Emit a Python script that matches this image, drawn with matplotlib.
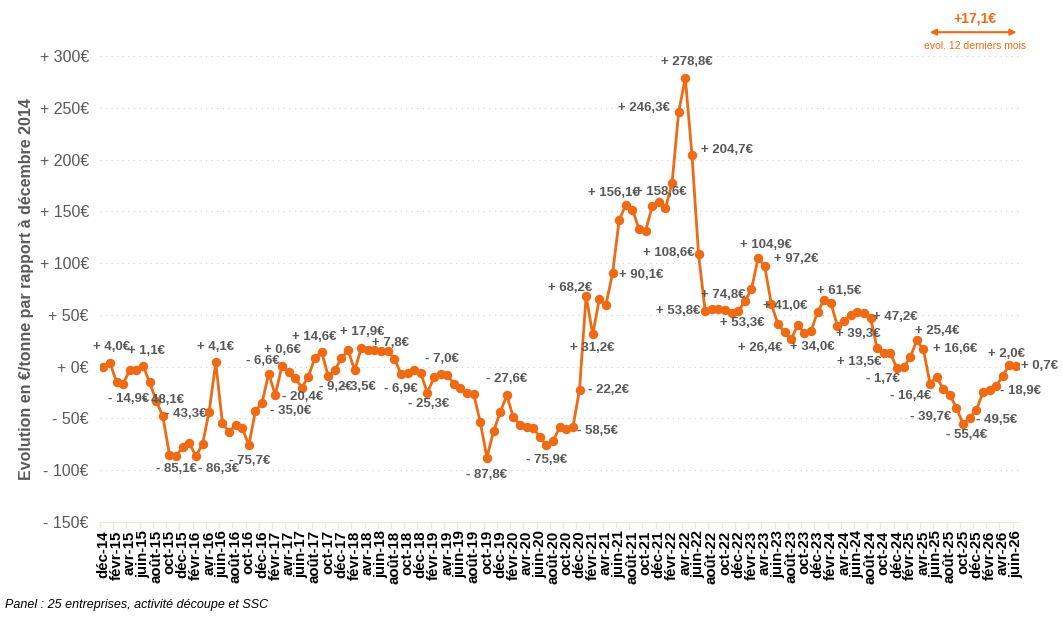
import matplotlib
matplotlib.use('Agg')
import matplotlib.pyplot as plt

plt.rcParams['font.family'] = ['Liberation Sans', 'DejaVu Sans']

# monthly categories, déc-14 .. juin-26
month_names = ['janv', 'févr', 'mars', 'avr', 'mai', 'juin',
               'juil', 'août', 'sept', 'oct', 'nov', 'déc']
categories = [f"{month_names[(11 + i) % 12]}-{14 + (11 + i) // 12:02d}" for i in range(139)]

# evolution en €/tonne vs déc-2014
values = [
    0.0, 4.0, -14.9, -16.5, -3.2, -2.8, 1.1, -15.2, -33.0, -48.1,
    -85.1, -85.8, -78.0, -74.0, -86.3, -74.8, -43.3, 4.1, -54.5, -62.9,
    -56.4, -59.3, -75.7, -42.6, -35.0, -6.6, -27.4, 0.6, -5.5, -10.7,
    -20.4, -9.5, 8.7, 14.6, -9.2, -3.6, 8.2, 15.8, -3.5, 17.9,
    16.1, 16.1, 15.2, 15.2, 7.8, -6.9, -6.5, -3.2, -6.4, -25.3,
    -10.3, -7.0, -7.7, -16.8, -20.8, -25.8, -26.4, -53.8, -87.8, -62.5,
    -44.2, -27.6, -49.0, -56.1, -58.0, -59.6, -67.7, -75.9, -71.6, -58.7,
    -60.3, -58.5, -22.2, 68.2, 31.2, 65.4, 60.0, 90.1, 141.8, 156.1,
    151.5, 133.2, 131.5, 155.0, 158.6, 153.0, 177.6, 246.3, 278.8, 204.7,
    108.6, 53.8, 55.8, 55.8, 55.1, 51.9, 53.3, 63.2, 74.8, 104.9,
    97.2, 60.6, 41.0, 33.8, 26.4, 40.3, 32.6, 34.0, 53.2, 64.5,
    61.5, 39.3, 44.5, 50.0, 52.5, 52.0, 47.2, 17.9, 13.5, 13.2,
    -1.7, -0.6, 9.0, 25.4, 16.6, -16.4, -10.3, -21.6, -27.4, -39.7,
    -55.4, -49.5, -41.9, -24.8, -22.6, -18.9, -8.7, 2.0, 0.7,
]

# months that carry a data label
label_idx = [1, 2, 6, 9, 10, 14, 16, 17, 22, 24, 25, 27, 30, 33, 34, 38, 39, 44, 45,
             49, 51, 58, 61, 67, 71, 72, 73, 74, 77, 79, 84, 87, 88, 89, 90, 91,
             96, 98, 99, 100, 102, 104, 107, 110, 111, 116, 118, 120, 123, 124,
             125, 129, 130, 131, 135, 137, 138]
# label offsets in pixels (dx right, dy down)
label_off = [(2, -16), (12, 17), (3, -15), (1, -16), (7, 14), (23, 13), (-23, 2),
             (0, -15), (1, 16), (29, 8), (-6, -13), (1, -16), (1, 9), (-7, -15),
             (8, 11), (4, 17), (1, -16), (-4, -16), (0, 15), (1, 11), (1, -15),
             (0, 17), (0, -16), (0, 15), (25, 4), (29, 0), (-16, -8), (0, 14),
             (29, 2), (-12, -12), (2, -10), (-35, -4), (1, -16), (35, -5),
             (-30, -1), (-27, 0), (4, 12), (-28, 6), (8, -13), (32, -7),
             (7, -18), (-31, 9), (1, 16), (8, -12), (21, 8), (25, -1), (-24, 9),
             (-14, 11), (20, -9), (32, 0), (-19, 12), (-26, 9), (4, 11), (27, 2),
             (24, 5), (-3, -11), (24, 0)]

evol_12m = 17.1

orange = '#EE6A14'
grey = '#595959'


def fmt_val(v):
    s = f"{abs(v):.1f}".replace('.', ',')
    return ("+ " if v >= 0 else "- ") + s + "€"


def fmt_tick(v):
    return ("+ " if v >= 0 else "- ") + f"{abs(int(v))}€"


fig = plt.figure(figsize=(10.63, 6.19), dpi=100)
ax = fig.add_axes([0.0941, 0.1567, 0.8648, 0.7528])

x = list(range(len(values)))
ax.plot(x, values, color=orange, linewidth=2, marker='o', markersize=5.8, zorder=3)

for i, (dx, dy) in zip(label_idx, label_off):
    ax.annotate(fmt_val(values[i]), (i, values[i]), xytext=(dx, -dy),
                textcoords='offset pixels', ha='center', va='center',
                fontsize=9.5, fontweight='bold', color=grey, zorder=4)

ax.set_xlim(-0.5, len(values) - 0.5)
ax.set_ylim(-150, 300)

yticks = list(range(-150, 301, 50))
ax.set_yticks(yticks)
ax.set_yticklabels([fmt_tick(v) for v in yticks], fontsize=11.5, color=grey)
for v in yticks[1:]:
    ax.axhline(v, color='#D0D0D0', linewidth=0.8, linestyle=(0, (1, 4)), zorder=1)

ax.set_xticks(x[::2])
ax.set_xticklabels(categories[::2], rotation=90, fontsize=10.8, fontweight='bold')
ax.set_xticks([i - 0.5 for i in x[::2]], minor=True)
ax.tick_params(axis='x', which='major', length=0, pad=6)
ax.tick_params(axis='x', which='minor', length=5, color='#EDE9D6', width=1)
ax.tick_params(axis='y', length=0, pad=8)

for side in ['top', 'right', 'left']:
    ax.spines[side].set_visible(False)
ax.spines['bottom'].set_color('#EDE9D6')

ax.set_ylabel('Evolution en €/tonne par rapport à décembre 2014', fontsize=11.5,
              fontweight='bold', color=grey, labelpad=4)

fig.text(0.005, 0.022, 'Panel : 25 entreprises, activité découpe et SSC',
         fontsize=9, style='italic', ha='left', va='center')

# 12 month evolution box, top right
fig.text(0.917, 0.970, ("+" if evol_12m >= 0 else "-") + f"{abs(evol_12m):.1f}".replace('.', ',') + "€",
         fontsize=10, fontweight='bold', color=orange, ha='center', va='center')
fig.patches.append(matplotlib.patches.FancyArrowPatch(
    (0.872, 0.948), (0.959, 0.948), transform=fig.transFigure,
    arrowstyle='<|-|>', mutation_scale=9, color=orange, linewidth=1.5))
fig.text(0.917, 0.926, 'evol. 12 derniers mois', fontsize=7.5, color=orange,
         ha='center', va='center')

plt.savefig('out.png', dpi=100)
